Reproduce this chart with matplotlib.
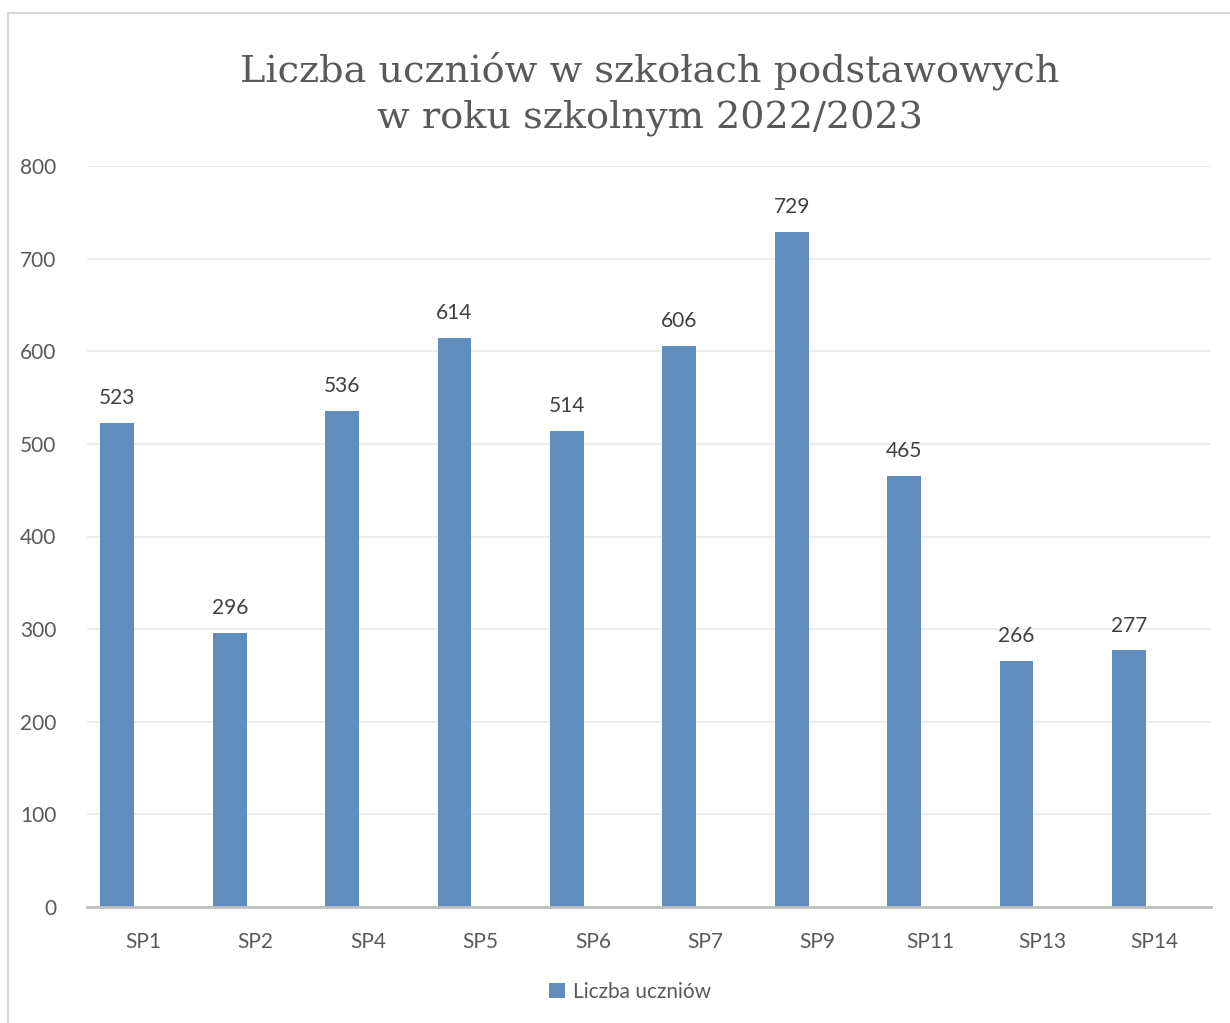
import matplotlib.pyplot as plt
from matplotlib.patches import Rectangle
import numpy as np

Szkoly = ['SP1', 'SP2', 'SP4', 'SP5', 'SP6', 'SP7', 'SP9', 'SP11', 'SP13', 'SP14']
Uczniowie = [523, 296, 536, 614, 514, 606, 729, 465, 266, 277]
Tytul = 'Liczba uczniów w szkołach podstawowych\nw roku szkolnym 2022/2023'
Seria = 'Liczba uczniów'

W = 1230
H = 1023
Szary = '#595959'
Niebieski = '#5f8dbc'

plt.rcParams['font.family'] = ['Lato', 'DejaVu Sans']
fig = plt.figure(figsize=(W / 100, H / 100), dpi=100)

# ramka wykresu
fig.patches.append(Rectangle((8 / W, -0.01), 1.1, 1 - 13 / H + 0.01, transform=fig.transFigure,
                             fill=False, edgecolor='#d9d9d9', linewidth=1.5))

ax = fig.add_axes([87 / W, 1 - 907 / H, (1211 - 87) / W, (907 - 166) / H])
x = np.arange(len(Szkoly))
bars = ax.bar(x - 0.23, Uczniowie, width=0.30, color=Niebieski, label=Seria, zorder=3)
for b, v in zip(bars, Uczniowie):
    ax.text(b.get_x() + b.get_width() / 2, v + 16, str(v), ha='center', va='bottom',
            fontsize=15, color='#404040')

ax.set_xlim(-0.5, len(Szkoly) - 0.5)
ax.set_ylim(0, 800)
ax.set_yticks(range(0, 801, 100))
ax.set_xticks(x)
ax.set_xticklabels(Szkoly)
ax.tick_params(axis='both', length=0, labelsize=15, labelcolor=Szary)
ax.tick_params(axis='x', pad=18)
ax.tick_params(axis='y', pad=22)
ax.grid(axis='y', color='#ececec', linewidth=1.3, zorder=0)
for s in ['top', 'right', 'left']:
    ax.spines[s].set_visible(False)
ax.spines['bottom'].set_color('#bfbfbf')
ax.spines['bottom'].set_linewidth(2)
ax.spines['bottom'].set_zorder(4)

fig.text(650 / W, 1 - 94 / H, Tytul, ha='center', va='center', fontsize=27.5,
         family=['DejaVu Serif'], color=Szary, linespacing=1.35)

ax.legend(loc='center', bbox_to_anchor=(630 / W, 1 - 992 / H), bbox_transform=fig.transFigure,
          frameon=False, fontsize=15, handlelength=0.75, handleheight=0.75, handletextpad=0.4,
          labelcolor=Szary)

fig.savefig('out.png', dpi=100, facecolor='white')
plt.close()
